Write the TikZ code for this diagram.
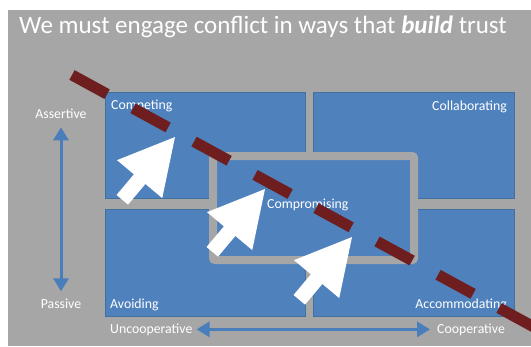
\documentclass[tikz,border=0pt]{standalone}
\usepackage{fontspec}
\setmainfont{Carlito}
\usetikzlibrary{arrows.meta}
\definecolor{bggray}{HTML}{A6A6A6}
\definecolor{boxblue}{HTML}{4F81BD}
\definecolor{boxedge}{HTML}{41719C}
\definecolor{arrblue}{HTML}{4A7EBB}
\definecolor{dashred}{HTML}{6E1E1E}
\begin{document}
\begin{tikzpicture}[x=1pt,y=-1pt,
  quad/.style={fill=boxblue,draw=boxedge,line width=0.8pt,inner sep=0pt,anchor=north west},
  lbl/.style={text=white,font=\fontsize{13.8}{16}\selectfont,inner sep=0pt},
  axisarrow/.style={draw=arrblue,line width=3pt,{Triangle[length=13pt,width=15pt]}-{Triangle[length=13pt,width=15pt]}},
  whitearrow/.style={fill=white},
  dashline/.style={draw=dashred,line width=11pt,dash pattern=on 40pt off 29.5pt}
]
\useasboundingbox (0,0) rectangle (531,346);
% background
\fill[bggray] (8,10) rectangle (531,346);
% title
\node[anchor=base west,inner sep=0pt,text=white,font=\fontsize{25}{30}\selectfont] (title) at (19,33)
  {We must engage conflict in ways that \textbf{\textit{build}} trust};
% quadrants
\node[quad,minimum width=200pt,minimum height=106pt] (competing) at (105,92) {};
\node[quad,minimum width=201pt,minimum height=106pt] (collab) at (313,92) {};
\node[quad,minimum width=200pt,minimum height=107pt] (avoiding) at (105,209) {};
\node[quad,minimum width=201pt,minimum height=107pt] (accom) at (313,209) {};
% compromising box
\node[anchor=north west,inner sep=0pt,fill=boxblue,draw=bggray,line width=8pt,rounded corners=2pt,
  minimum width=201pt,minimum height=104pt] (compro) at (209,152) {};
% labels
\node[lbl,anchor=base west] (lcomp) at (111,109) {Competing};
\node[lbl,anchor=base east] (lcoll) at (507,110) {Collaborating};
\node[lbl,anchor=base west] (lcompro) at (267,208) {Compromising};
\node[lbl,anchor=base west] (lavoid) at (110,308) {Avoiding};
\node[lbl,anchor=base east] (laccom) at (507,308) {Accommodating};
\node[lbl,anchor=base] (assertive) at (61,118) {Assertive};
\node[lbl,anchor=base] (passive) at (61,308) {Passive};
\node[lbl,anchor=base west] (uncoop) at (110,333) {Uncooperative};
\node[lbl,anchor=base west] (coop) at (437,333) {Cooperative};
% axis arrows
\draw[axisarrow,shorten <=9pt,shorten >=7pt] (assertive.south) -- (passive.north);
\draw[axisarrow,shorten <=4pt,shorten >=7pt] (uncoop.east) -- (coop.west);
% white arrows
\foreach \tx/\ty in {175/137, 265/189, 352/237}{
  \begin{scope}[shift={(\tx,\ty)},rotate=50]
    \fill[whitearrow] (-82,-7.5) -- (-55,-7.5) -- (-55,-29.5) -- (0,0) -- (-55,29.5) -- (-55,7.5) -- (-82,7.5) -- cycle;
  \end{scope}
}
% dashed line
\begin{scope}
  \clip (8,10) rectangle (531,346);
  \coordinate (dstart) at (72,75);
  \coordinate (dend) at (620,374);
  \draw[dashline] (dstart) -- (dend);
\end{scope}
\end{tikzpicture}
\end{document}
